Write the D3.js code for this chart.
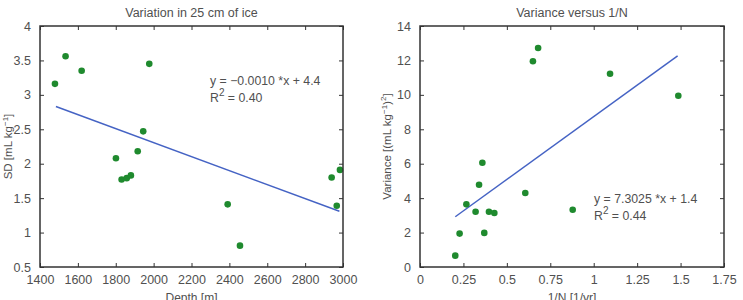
<!DOCTYPE html>
<meta charset="utf-8">
<script src="https://d3js.org/d3.v7.min.js"></script>
<style>
    body { margin: 0; background: #fff; }
    text { font-family: "Liberation Sans", Arial, sans-serif; fill: #505050; }
</style>
<div id="my_dataviz"></div>
<script>
    // left panel: SD vs depth
    var depth = [1479, 1535, 1620, 1801, 1831, 1858, 1880, 1916, 1945, 1977, 2391, 2456, 2940, 2967, 2984];
    var sd = [3.16, 3.56, 3.35, 2.08, 1.77, 1.79, 1.83, 2.18, 2.47, 3.45, 1.41, 0.81, 1.80, 1.39, 1.91];
    var fitDepth = [1484, 2981];
    var fitSd = [2.83, 1.31];
    var depthTicks = [1400, 1600, 1800, 2000, 2200, 2400, 2600, 2800, 3000];
    var sdTicks = [0.5, 1, 1.5, 2, 2.5, 3, 3.5, 4];

    // right panel: variance vs 1/N
    var invN = [0.203, 0.228, 0.267, 0.32, 0.34, 0.359, 0.37, 0.397, 0.428, 0.606, 0.65, 0.68, 0.879, 1.094, 1.487];
    var variance = [0.66, 1.94, 3.64, 3.21, 4.78, 6.06, 1.98, 3.21, 3.14, 4.30, 11.95, 12.72, 3.33, 11.23, 9.95];
    var fitInvN = [0.203, 1.483];
    var fitVar = [2.92, 12.26];
    var invNTicks = [0, 0.25, 0.5, 0.75, 1, 1.25, 1.5, 1.75];
    var varTicks = [0, 2, 4, 6, 8, 10, 12, 14];

    var svg = d3.select("#my_dataviz")
        .append("svg")
        .attr("width", 743)
        .attr("height", 300);

    function drawPanel(opt) {
        var g = svg.append("g");
        var x = d3.scaleLinear().domain(opt.xDomain).range([opt.left, opt.right]);
        var y = d3.scaleLinear().domain(opt.yDomain).range([opt.bottom, opt.top]);

        // regression line
        g.append("line")
            .attr("x1", x(opt.fitX[0])).attr("y1", y(opt.fitY[0]))
            .attr("x2", x(opt.fitX[1])).attr("y2", y(opt.fitY[1]))
            .attr("stroke", "#4563c4")
            .attr("stroke-width", 1.5);

        // dots
        g.selectAll("circle")
            .data(opt.xs)
            .enter()
            .append("circle")
            .attr("cx", function (d) { return x(d); })
            .attr("cy", function (d, i) { return y(opt.ys[i]); })
            .attr("r", 3.3)
            .attr("fill", "#1f8a2e");

        // axes, ticks inward on all four sides
        var tk = 4;
        var ax = g.append("g")
            .attr("transform", "translate(0," + opt.bottom + ")")
            .call(d3.axisBottom(x).tickValues(opt.xTicks).tickSize(-tk).tickPadding(8).tickFormat(d3.format("")));
        var axT = g.append("g")
            .attr("transform", "translate(0," + opt.top + ")")
            .call(d3.axisTop(x).tickValues(opt.xTicks).tickSize(-tk).tickFormat(""));
        var ay = g.append("g")
            .attr("transform", "translate(" + opt.left + ",0)")
            .call(d3.axisLeft(y).tickValues(opt.yTicks).tickSize(-tk).tickPadding(9).tickFormat(d3.format("")));
        var ayR = g.append("g")
            .attr("transform", "translate(" + opt.right + ",0)")
            .call(d3.axisRight(y).tickValues(opt.yTicks).tickSize(-tk).tickFormat(""));
        [ax, axT, ay, ayR].forEach(function (a) {
            a.select(".domain").remove();
            a.selectAll("line").attr("stroke", "#333");
            a.selectAll("text").style("font-size", "12.5px").style("font-family", "'Liberation Sans', Arial, sans-serif").attr("fill", "#505050");
        });

        // frame
        g.append("rect")
            .attr("x", opt.left).attr("y", opt.top)
            .attr("width", opt.right - opt.left)
            .attr("height", opt.bottom - opt.top)
            .attr("fill", "none")
            .attr("stroke", "#333")
            .attr("stroke-width", 1.5);

        // title
        g.append("text")
            .attr("x", (opt.left + opt.right) / 2)
            .attr("y", 17)
            .attr("text-anchor", "middle")
            .style("font-size", "12.5px")
            .text(opt.title);

        // x label
        g.append("text")
            .attr("x", (opt.left + opt.right) / 2)
            .attr("y", 302)
            .attr("text-anchor", "middle")
            .style("font-size", "12px")
            .text(opt.xLabel);

        // y label
        var yl = g.append("text")
            .attr("transform", "translate(" + opt.yLabelX + "," + (opt.top + opt.bottom) / 2 + ")rotate(-90)")
            .attr("text-anchor", "middle")
            .style("font-size", "11.5px");
        opt.yLabel(yl);

        // equation
        var eq = g.append("text")
            .attr("x", opt.eqX)
            .attr("y", opt.eqY)
            .style("font-size", "12.3px");
        eq.text(opt.eq);
        var r2 = g.append("text")
            .attr("x", opt.eqX)
            .attr("y", opt.eqY + 17)
            .style("font-size", "12.3px");
        r2.append("tspan").text("R");
        r2.append("tspan").attr("dy", -6).style("font-size", "10px").text("2");
        r2.append("tspan").attr("dy", 6).text(" = " + opt.r2);
    }

    drawPanel({
        left: 40, right: 343, top: 26, bottom: 267,
        xDomain: [1400, 3000], yDomain: [0.5, 4],
        xs: depth, ys: sd, fitX: fitDepth, fitY: fitSd,
        xTicks: depthTicks, yTicks: sdTicks,
        title: "Variation in 25 cm of ice",
        xLabel: "Depth [m]",
        yLabelX: 12,
        yLabel: function (t) {
            t.append("tspan").text("SD [mL kg");
            t.append("tspan").attr("dy", -4).style("font-size", "8px").text("−1");
            t.append("tspan").attr("dy", 4).text("]");
        },
        eq: "y = −0.0010 *x + 4.4", r2: "0.40",
        eqX: 210, eqY: 85
    });

    drawPanel({
        left: 420, right: 724, top: 26, bottom: 267,
        xDomain: [0, 1.75], yDomain: [0, 14],
        xs: invN, ys: variance, fitX: fitInvN, fitY: fitVar,
        xTicks: invNTicks, yTicks: varTicks,
        title: "Variance versus 1/N",
        xLabel: "1/N [1/yr]",
        yLabelX: 391,
        yLabel: function (t) {
            t.append("tspan").text("Variance [(mL kg");
            t.append("tspan").attr("dy", -4).style("font-size", "8px").text("−1");
            t.append("tspan").attr("dy", 4).text(")");
            t.append("tspan").attr("dy", -5).style("font-size", "8px").text("2");
            t.append("tspan").attr("dy", 5).text("]");
        },
        eq: "y = 7.3025 *x + 1.4", r2: "0.44",
        eqX: 594, eqY: 203
    });
</script>
